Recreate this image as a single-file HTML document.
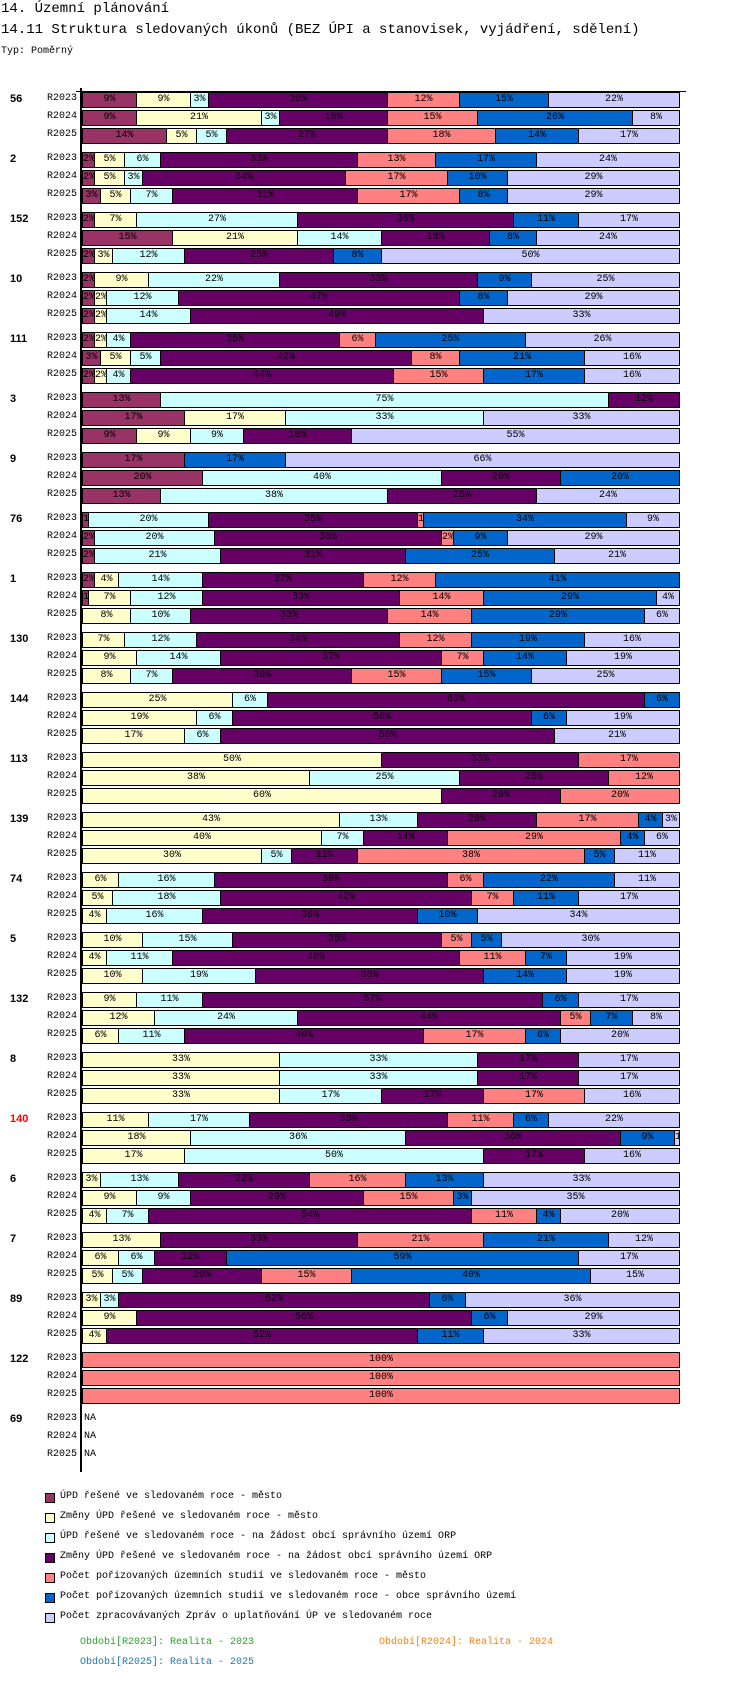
<!DOCTYPE html>
<html><head><meta charset="utf-8">
<style>
body{margin:0;background:#fff;width:750px;height:1702px;position:relative;overflow:hidden;font-family:"Liberation Mono",monospace;color:#000}
.abs{position:absolute;white-space:nowrap}
.h1{font-size:14px;left:1px}
.bar{position:absolute;height:14px;border:1px solid #000;display:flex;overflow:hidden}
.seg{height:14px;overflow:hidden;font-size:10px;line-height:14px;text-align:center;box-sizing:border-box;border-right:1px solid #000;flex:none}
.seg:last-child{border-right:none}
.glab{font-size:11px;font-weight:bold;font-family:"Liberation Sans",sans-serif;left:10px}
.rlab{font-size:10px;right:673px;text-align:right}
.leg{font-size:10px;left:60px}
.sq{position:absolute;left:45px;width:8px;height:8px;border:1px solid #000}
</style></head>
<body>
<div class="abs h1" style="top:1px">14. Územní plánování</div>
<div class="abs h1" style="top:22px">14.11 Struktura sledovaných úkonů (BEZ ÚPI a stanovisek, vyjádření, sdělení)</div>
<div class="abs" style="top:46px;left:1px;font-size:10px">Typ: Poměrný</div>
<div id="chart"></div>
<div class="abs" style="left:80px;top:88px;width:2px;height:1384px;background:#000"></div>
<div class="abs" style="left:76px;top:91px;width:610px;height:1px;background:#000"></div>
<div id="legend"></div>
<div class="abs" style="left:80px;top:1637px;font-size:10px;color:#2ca02c">Období[R2023]: Realita - 2023</div>
<div class="abs" style="left:379px;top:1637px;font-size:10px;color:#ff7f0e">Období[R2024]: Realita - 2024</div>
<div class="abs" style="left:80px;top:1657px;font-size:10px;color:#1f77b4">Období[R2025]: Realita - 2025</div>
<script>
const groups=["56","2","152","10","111","3","9","76","1","130","144","113","139","74","5","132","8","140","6","7","89","122","69"];
const periods=["R2023","R2024","R2025"];
const seriesNames=["ÚPD řešené ve sledovaném roce - město","Změny ÚPD řešené ve sledovaném roce - město","ÚPD řešené ve sledovaném roce - na žádost obcí správního území ORP","Změny ÚPD řešené ve sledovaném roce - na žádost obcí správního území ORP","Počet pořizovaných územních studií ve sledovaném roce - město","Počet pořizovaných územních studií ve sledovaném roce - obce správního území","Počet zpracovávaných Zpráv o uplatňování ÚP ve sledovaném roce"];
const colors=["#993366","#ffffcc","#ccffff","#660066","#ff8080","#0066cc","#ccccff"];
const values=[
[[9,9,3,30,12,15,22],[9,21,3,18,15,26,8],[14,5,5,27,18,14,17]],
[[2,5,6,33,13,17,24],[2,5,3,34,17,10,29],[3,5,7,31,17,8,29]],
[[2,7,27,36,0,11,17],[15,21,14,18,0,8,24],[2,3,12,25,0,8,50]],
[[2,9,22,33,0,9,25],[2,2,12,47,0,8,29],[2,2,14,49,0,0,33]],
[[2,2,4,35,6,25,26],[3,5,5,42,8,21,16],[2,2,4,44,15,17,16]],
[[13,0,75,12,0,0,0],[17,17,33,0,0,0,33],[9,9,9,18,0,0,55]],
[[17,0,0,0,0,17,66],[20,0,40,20,0,20,0],[13,0,38,25,0,0,24]],
[[1,0,20,35,1,34,9],[2,0,20,38,2,9,29],[2,0,21,31,0,25,21]],
[[2,4,14,27,12,41,0],[1,7,12,33,14,29,4],[0,8,10,33,14,29,6]],
[[0,7,12,34,12,19,16],[0,9,14,37,7,14,19],[0,8,7,30,15,15,25]],
[[0,25,6,63,0,6,0],[0,19,6,50,0,6,19],[0,17,6,56,0,0,21]],
[[0,50,0,33,17,0,0],[0,38,25,25,12,0,0],[0,60,0,20,20,0,0]],
[[0,43,13,20,17,4,3],[0,40,7,14,29,4,6],[0,30,5,11,38,5,11]],
[[0,6,16,39,6,22,11],[0,5,18,42,7,11,17],[0,4,16,36,0,10,34]],
[[0,10,15,35,5,5,30],[0,4,11,48,11,7,19],[0,10,19,38,0,14,19]],
[[0,9,11,57,0,6,17],[0,12,24,44,5,7,8],[0,6,11,40,17,6,20]],
[[0,33,33,17,0,0,17],[0,33,33,17,0,0,17],[0,33,17,17,17,0,16]],
[[0,11,17,33,11,6,22],[0,18,36,36,0,9,1],[0,17,50,17,0,0,16]],
[[0,3,13,22,16,13,33],[0,9,9,29,15,3,35],[0,4,7,54,11,4,20]],
[[0,13,0,33,21,21,12],[0,6,6,12,0,59,17],[0,5,5,20,15,40,15]],
[[0,3,3,52,0,6,36],[0,9,0,56,0,6,29],[0,4,0,52,0,11,33]],
[[0,0,0,0,100,0,0],[0,0,0,0,100,0,0],[0,0,0,0,100,0,0]],
[null,null,null]
];
const X0=82,W=598,Y0=92,GP=60,RP=18;
function xScale(frac){return frac*W;}
function yRow(g,r){return Y0+g*GP+r*RP;}
const chart=document.getElementById('chart');
groups.forEach((gname,g)=>{
  const gl=document.createElement('div');
  gl.className='abs glab';gl.style.top=(yRow(g,0)+1)+'px';gl.textContent=gname;
  if(gname==="140")gl.style.color='#ff0000';
  
  
  chart.appendChild(gl);
  periods.forEach((p,r)=>{
    const y=yRow(g,r);
    const rl=document.createElement('div');
    rl.className='abs rlab';rl.style.top=(y+1)+'px';rl.textContent=p;
    
    
    chart.appendChild(rl);
    const vals=values[g][r];
    if(!vals){
      const na=document.createElement('div');
      na.className='abs';na.style.cssText+='left:84px;font-size:10px;top:'+(y+1)+'px';na.textContent='NA';
      
      
      chart.appendChild(na);return;
    }
    const total=vals.reduce((a,b)=>a+b,0);
    const bar=document.createElement('div');
    bar.className='bar';bar.style.left=X0+'px';bar.style.top=y+'px';bar.style.width=(W-2)+'px';
    
    
    let acc=0,prev=0;
    const segs=[];
    vals.forEach((v,i)=>{if(v>0)segs.push(i);});
    segs.forEach((i,k)=>{
      acc+=vals[i];
      const end=Math.round(xScale(acc/total));
      const s=document.createElement('div');
      s.className='seg';
      let w=end-prev; if(k===segs.length-1) w=(W-2)-prev;
      s.style.width=w+'px';s.style.background=colors[i];
      s.textContent=vals[i]+'%';
      
      
      bar.appendChild(s);prev=end;
    });
    chart.appendChild(bar);
  });
});
const leg=document.getElementById('legend');
seriesNames.forEach((n,i)=>{
  const y=1493+i*20;
  const sq=document.createElement('div');
  sq.className='sq';sq.style.top=y+'px';sq.style.background=colors[i];
  
  
  leg.appendChild(sq);
  const t=document.createElement('div');
  t.className='abs leg';t.style.top=(y-2)+'px';t.textContent=n;
  
  
  leg.appendChild(t);
});
</script>
</body></html>
